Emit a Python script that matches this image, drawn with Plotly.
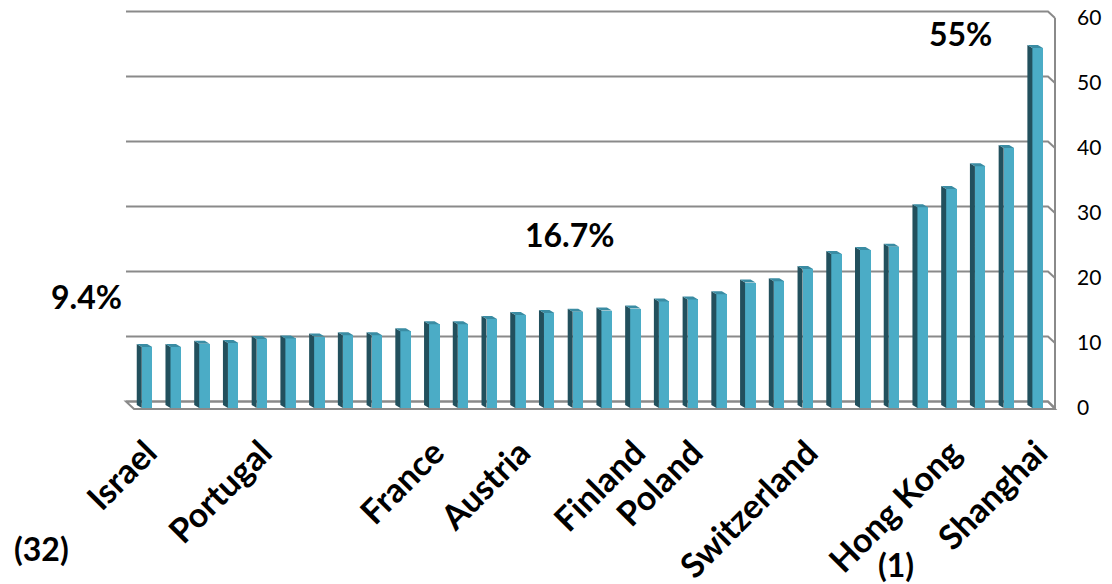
import plotly.graph_objects as go

# ---------------- data ----------------
countries = ["Israel", "Norway", "Italy", "Denmark", "Portugal", "Ireland",
             "Slovak Republic", "Iceland", "Luxembourg", "United Kingdom",
             "France", "Czech Republic", "Slovenia", "Austria", "Estonia",
             "Australia", "New Zealand", "Finland", "Canada", "Poland",
             "Germany", "Netherlands", "Belgium", "Switzerland", "Japan",
             "Macao-China", "Liechtenstein", "Korea", "Hong Kong",
             "Chinese Taipei", "Singapore", "Shanghai"]
values = [9.4, 9.4, 9.9, 10.0, 10.6, 10.7, 11.0, 11.2, 11.2, 11.8,
          12.9, 12.9, 13.7, 14.3, 14.6, 14.8, 15.0, 15.3, 16.4, 16.7,
          17.5, 19.3, 19.5, 21.4, 23.7, 24.3, 24.8, 30.9, 33.7, 37.2,
          40.0, 55.4]
shown_labels = ["Israel", "Portugal", "France", "Austria", "Finland",
                "Poland", "Switzerland", "Hong Kong", "Shanghai"]
y_ticks = [0, 10, 20, 30, 40, 50, 60]
callouts = ["9.4%", "16.7%", "55%", "(32)", "(1)"]

# ---------------- geometry / style ----------------
W, H = 1112, 584
L, R, T, B = 100, 1060, 10, 410          # plot area in pixels
X0_PX, X_STEP = 147.0, 28.73              # first category centre, spacing
Y0_PX, Y_STEP = 408.0, 6.5                # front zero, px per unit

def px2x(p):
    return (p - X0_PX) / X_STEP

def px2y(p):
    return (Y0_PX - p) / Y_STEP

def paper_x(p):
    return (p - L) / (R - L)

def paper_y(p):
    return (B - p) / (B - T)

FONT = "Lato"
FRONT = "#4BACC6"
SIDE = "#22505D"
CAP = "#3A8CA3"
GRID = "#8A8A8A"

bar_w = 10.5 / X_STEP
dxd = -5.0 / X_STEP
dyd = 3.0 / Y_STEP

xs = list(range(len(countries)))

fig = go.Figure()

# side faces & caps derived from data
sx, sy, cx, cy = [], [], [], []
for i, v in zip(xs, values):
    xl, xr = i - bar_w / 2, i + bar_w / 2
    sx += [xl, xl, xl + dxd, xl + dxd, xl, None]
    sy += [0, v, v + dyd, dyd, 0, None]
    cx += [xl, xr, xr + dxd, xl + dxd, xl, None]
    cy += [v, v, v + dyd, v + dyd, v, None]

fig.add_trace(go.Bar(x=xs, y=values, width=bar_w, marker_color=FRONT,
                     marker_line_width=0, hoverinfo="skip"))
fig.add_trace(go.Scatter(x=sx, y=sy, fill="toself", fillcolor=SIDE,
                         mode="lines", line=dict(width=0, color=SIDE),
                         hoverinfo="skip"))
fig.add_trace(go.Scatter(x=cx, y=cy, fill="toself", fillcolor=CAP,
                         mode="lines", line=dict(width=0, color=CAP),
                         hoverinfo="skip"))

# ---- walls / floor (back wall is up-left of front) ----
shapes = []
BACK_L, BACK_R, FRONT_R = 126, 1048, 1055
DEPTH_DY = 6.5
for t in y_ticks:
    yb = Y0_PX - DEPTH_DY - t * Y_STEP
    path = (f"M {px2x(BACK_L)},{px2y(yb)} L {px2x(BACK_R)},{px2y(yb)} "
            f"L {px2x(FRONT_R)},{px2y(yb + DEPTH_DY)}")
    shapes.append(dict(type="path", path=path, xref="x", yref="y",
                       line=dict(color=GRID, width=2), layer="below"))
# right wall front edge
top_front = Y0_PX - 60 * Y_STEP
shapes.append(dict(type="line", xref="x", yref="y",
                   x0=px2x(FRONT_R), x1=px2x(FRONT_R),
                   y0=px2y(top_front), y1=px2y(Y0_PX + 1),
                   line=dict(color=GRID, width=2), layer="below"))
# floor
fl = (f"M {px2x(BACK_L)},{px2y(Y0_PX - DEPTH_DY)} "
      f"L {px2x(BACK_R)},{px2y(Y0_PX - DEPTH_DY)} "
      f"L {px2x(FRONT_R)},{px2y(Y0_PX + 1)} "
      f"L {px2x(BACK_L + 8)},{px2y(Y0_PX + 1)} Z")
shapes.append(dict(type="path", path=fl, xref="x", yref="y",
                   line=dict(color=GRID, width=2), fillcolor="rgba(0,0,0,0)",
                   layer="below"))

# ---- callout annotations ----
pos = {"9.4%": (86, 296), "16.7%": (570, 234), "55%": (960, 33),
       "(32)": (41, 548), "(1)": (896, 564)}
annotations = []
for txt in callouts:
    px, py = pos[txt]
    annotations.append(dict(text=txt, x=paper_x(px), y=paper_y(py),
                            xref="paper", yref="paper", showarrow=False,
                            xanchor="center", yanchor="middle",
                            font=dict(family=FONT, size=32, color="black",
                                      weight="bold")))

fig.update_layout(
    template="none",
    width=W, height=H,
    margin=dict(l=L, r=W - R, t=T, b=H - B, pad=0, autoexpand=False),
    paper_bgcolor="white", plot_bgcolor="white",
    showlegend=False, bargap=0,
    shapes=shapes, annotations=annotations,
    xaxis=dict(range=[px2x(L), px2x(R)], showgrid=False, zeroline=False,
               showline=False, ticks="", automargin=False,
               tickvals=[countries.index(n) for n in shown_labels],
               ticktext=shown_labels, tickangle=-45,
               ticklabelstandoff=15, ticklabelshift=0,
               tickfont=dict(family=FONT, size=34, color="black",
                             weight="bold")),
    yaxis=dict(range=[px2y(B), px2y(T)], side="right", showgrid=False,
               zeroline=False, showline=False, ticks="", automargin=False,
               tickvals=y_ticks, ticklabelstandoff=16,
               tickfont=dict(family=FONT, size=21, color="black")),
)

fig.write_html("out.html",
               config={"displayModeBar": False},
               post_script="document.body.style.margin='0px';")
